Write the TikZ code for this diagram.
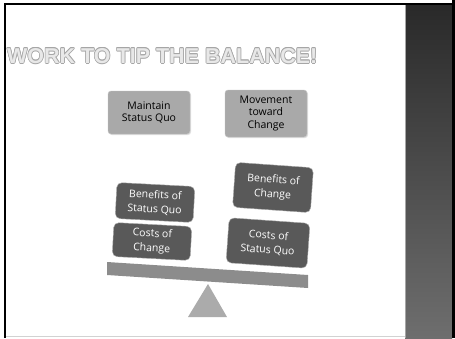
\documentclass[tikz,border=0pt]{standalone}
\usepackage{fontspec}
\setmainfont{Open Sans}
\newfontfamily\titlefont{Liberation Sans}
\usetikzlibrary{shadows}
\definecolor{boxlight}{HTML}{A9A9A9}
\definecolor{boxdark}{HTML}{595959}
\definecolor{beamgray}{HTML}{8C8C8C}
\definecolor{pivotgray}{HTML}{ABABAB}
\definecolor{paneltop}{HTML}{292929}
\definecolor{panelbot}{HTML}{6E6E6E}
\tikzset{
	lightbox/.style={draw=gray!45, fill=boxlight, rounded corners=3pt, minimum width=82pt, minimum height=43pt, align=center, inner sep=1pt, font=\fontsize{10.5}{12.8}\selectfont, drop shadow={shadow xshift=1pt, shadow yshift=-1pt, opacity=0.25}},
	darkbox/.style={draw=gray!65, fill=boxdark, text=white, rounded corners=5pt, minimum width=78pt, align=center, inner sep=1pt, font=\fontsize{10.5}{14.5}\selectfont},
	titletext/.style={anchor=west, inner sep=0pt, font=\titlefont\bfseries\fontsize{21.5}{24}\selectfont}
}
\begin{document}
\begin{tikzpicture}[x=1pt, y=-1pt]
	\useasboundingbox (0,0) rectangle (455,338);
	\fill[white] (0,0) rectangle (455,338);
	\shade[top color=paneltop, bottom color=panelbot] (405,3) rectangle (452,338);
	\fill[black] (452,0) rectangle (455,338);
	\draw[gray!70, line width=1.2pt] (405.6,3) -- (405.6,338);
	\draw[black, line width=2pt] (4,4) -- (452,4);
	\draw[black, line width=2pt] (5,3) -- (5,338);
	\draw[gray!35, line width=1pt] (6,336.5) -- (405,336.5);
	\foreach \dx/\dy in {-0.7/0, 0.7/0, 0/-0.7, 0/0.7, -0.5/-0.5, 0.5/0.5, -0.5/0.5, 0.5/-0.5}
		\node[titletext, text=gray!70] at (7+\dx,56+\dy) {WORK TO TIP THE BALANCE!};
	\node[titletext, text=gray!18] (title) at (7,56) {WORK TO TIP THE BALANCE!};
	\node[lightbox] (maintain) at (149,112.5) {Maintain\\Status Quo};
	\node[lightbox, minimum height=47pt] (movement) at (266,113.5) {Movement\\toward\\Change};
	\fill[beamgray] (107,262) -- (308,275) -- (308,288) -- (107,275) -- cycle;
	\fill[pivotgray] (208,284) -- (227,317) -- (188,317) -- cycle;
	\node[darkbox, minimum height=36pt, rotate=-3] (benquo) at (155,202.5) {Benefits of\\Status Quo};
	\node[darkbox, minimum height=34pt, rotate=-3] (costchange) at (152,241.5) {Costs of\\Change};
	\node[darkbox, minimum height=45pt, rotate=-4] (benchange) at (273,187.5) {Benefits of\\Change};
	\node[darkbox, minimum width=81pt, minimum height=45pt, rotate=-4] (costquo) at (268,243) {Costs of\\Status Quo};
\end{tikzpicture}
\end{document}
